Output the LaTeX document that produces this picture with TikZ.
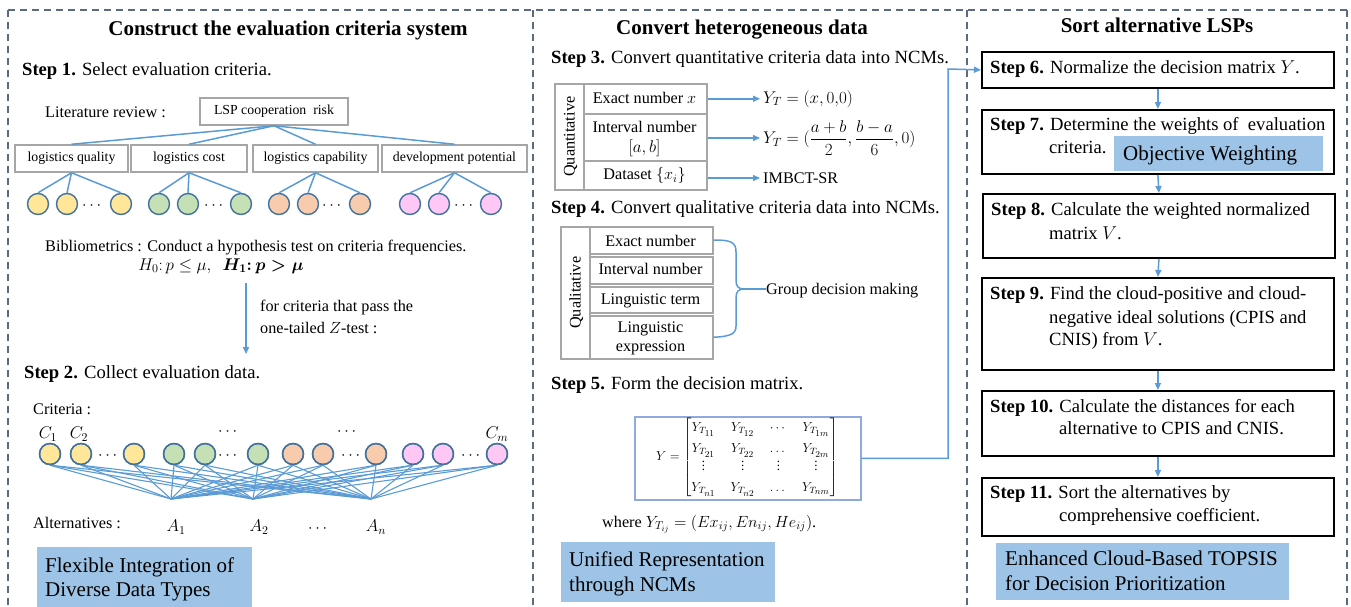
\RequirePackage{fix-cm}
\documentclass[tikz,border=0pt]{standalone}
\usepackage{amsmath}
\usepackage{fontspec}
\setmainfont{Liberation Serif}
\usetikzlibrary{arrows.meta}

\definecolor{framecol}{HTML}{5A6B82}
\definecolor{linkblue}{HTML}{5B9BD5}
\definecolor{cellgray}{HTML}{A6A6A6}
\definecolor{matframe}{HTML}{8FAADC}
\definecolor{tagfill}{HTML}{9DC3E6}
\definecolor{dotedge}{HTML}{41719C}
\definecolor{cyellow}{HTML}{FFE699}
\definecolor{cgreen}{HTML}{C5E0B4}
\definecolor{corange}{HTML}{F8CBAD}
\definecolor{cpink}{HTML}{FFC8F4}

\newcommand{\szTitle}{\fontsize{21}{25}\selectfont\bfseries}
\newcommand{\szStep}{\fontsize{18.6}{22}\selectfont}
\newcommand{\szBody}{\fontsize{16.2}{19}\selectfont}
\newcommand{\szMath}{\fontsize{17}{20}\selectfont}
\newcommand{\szCell}{\fontsize{13.8}{16}\selectfont}
\newcommand{\szTag}{\fontsize{21}{25}\selectfont}
% matrix entry Y_{T_{ij}} with a readable inner index
\newcommand{\ytt}[1]{Y_{T_{\scriptstyle #1}}}

\tikzset{
  ttl/.style={inner sep=0pt, text height=13.9pt, text depth=0pt, font=\szTitle},
  stp/.style={inner sep=0pt, text height=12.3pt, text depth=0pt, font=\szStep, anchor=west},
  bdy/.style={inner sep=0pt, text height=10.7pt, text depth=0pt, font=\szBody},
  mth/.style={inner sep=0pt, font=\szMath},
  tagtxt/.style={inner sep=0pt, text height=13.9pt, text depth=0pt, font=\szTag, anchor=west},
  frame/.style={draw=framecol, line width=1.4pt, dash pattern=on 7pt off 5pt},
  link/.style={draw=linkblue, line width=1.5pt},
  net/.style={draw=linkblue, line width=1.1pt},
  arr/.style={draw=linkblue, line width=1.5pt, -{Triangle[length=7pt,width=6pt]}},
  cell/.style={draw=cellgray, line width=1.5pt, inner sep=0pt, anchor=north west},
  crit/.style={draw=cellgray, line width=1.5pt, inner sep=0pt, font=\szCell, minimum height=27pt},
  dot/.style={circle, draw=dotedge, line width=1.4pt, minimum size=21pt, inner sep=0pt},
  stepbox/.style={draw=black, line width=1.8pt, anchor=north west, inner sep=0pt, minimum width=352pt},
  tag/.style={fill=tagfill, anchor=north west, inner sep=0pt},
}

\begin{document}
\begin{tikzpicture}[x=1pt,y=-1pt]
\useasboundingbox (0,0) rectangle (1351,606);

% ---------- panel frames ----------
\draw[frame] (8,10) -- (1347,10);
\foreach \fx in {8,533,967,1347} \draw[frame] (\fx,10) -- (\fx,606);

% ---------- titles ----------
\node[ttl] (ttlA) at (288,29) {Construct the evaluation criteria system};
\node[ttl] (ttlB) at (742,28) {Convert heterogeneous data};
\node[ttl] (ttlC) at (1157,26) {Sort alternative LSPs};

% ================= left panel =================
\node[stp] (step1) at (22,69) {\textbf{Step 1.} Select evaluation criteria.};
\node[bdy, anchor=west] (litrev) at (45,112) {Literature review :};
\node[crit, minimum width=148pt] (root) at (274,111.5) {LSP cooperation\ \ risk};
\node[crit, minimum width=113pt] (kq) at (71.5,158.5) {logistics quality};
\node[crit, minimum width=116pt] (kc) at (189,158.5) {logistics cost};
\node[crit, minimum width=125pt] (kp) at (315.5,158.5) {logistics capability};
\node[crit, minimum width=145pt] (kd) at (454.5,158.5) {development potential};
\foreach \k in {kq,kc,kp,kd} \draw[link] (root.south) -- (\k.north);

% criteria circles of step 1
\foreach \n/\px/\col in {ya/38/cyellow, yb/67/cyellow, yc/121/cyellow,
                         ga/159/cgreen, gb/188/cgreen, gc/241/cgreen,
                         oa/279/corange, ob/308/corange, oc/360/corange,
                         pa/410/cpink, pb/439/cpink, pc/491/cpink}
  \node[dot, fill=\col] (\n) at (\px,204) {};
\foreach \k/\a/\b/\c in {kq/ya/yb/yc, kc/ga/gb/gc, kp/oa/ob/oc, kd/pa/pb/pc}
  \foreach \t in {\a,\b,\c} \draw[link] (\k.south) -- (\t.north);
\foreach \n/\px in {ea/93, eb/215, ec/333, ed/465}
  \node[bdy] (\n) at (\px,204) {$\cdots$};

\node[bdy, anchor=west] (biblio) at (45,246) {Bibliometrics : Conduct a hypothesis test on criteria frequencies.};
\node[mth] (hyp) at (221,266) {$H_0{:}\,p\le\mu,\ \ \boldsymbol{H_1{:}\,p>\mu}$};
\coordinate (ztop) at (246,283);
\coordinate (zbot) at (246,354);
\draw[arr] (ztop) -- (zbot);
\node[bdy, anchor=west] (pass1) at (260,306) {for criteria that pass the};
\node[bdy, anchor=west] (pass2) at (260,328) {one-tailed $Z$-test :};

\node[stp] (step2) at (24,372) {\textbf{Step 2.} Collect evaluation data.};
\node[bdy, anchor=west] (critlbl) at (33,409) {Criteria :};

% criteria and alternatives
\foreach \n/\px/\col in {c1/50/cyellow, c2/81/cyellow, c3/134/cyellow,
                         c4/174/cgreen, c5/205/cgreen, c6/258/cgreen,
                         c7/293/corange, c8/323/corange, c9/376/corange,
                         c10/413/cpink, c11/443/cpink, c12/497/cpink}
  \node[dot, fill=\col] (\n) at (\px,454) {};
\coordinate (pA1) at (171,499);
\coordinate (pA2) at (253,499);
\coordinate (pAn) at (371,499);
\foreach \c in {c1,c2,c3,c4,c5,c6,c7,c8,c9,c10,c11,c12}
  \foreach \a in {pA1,pA2,pAn} \draw[net] (\c.south) -- (\a);
\foreach \c in {c1,c2,c3,c4,c5,c6,c7,c8,c9,c10,c11,c12}
  \node[dot, fill=none] at (\c) {};
\foreach \n/\px in {fa/109, fb/229, fc/352, fd/472}
  \node[bdy] (\n) at (\px,454) {$\cdots$};
\node[mth] (lc1) at (48,434) {$C_1$};
\node[mth] (lc2) at (79,434) {$C_2$};
\node[mth] (lcm) at (497,434) {$C_m$};
\node[bdy] (ua) at (229,430) {$\cdots$};
\node[bdy] (ub) at (348,430) {$\cdots$};
\node[bdy, anchor=west] (altlbl) at (33,523) {Alternatives :};
\node[mth] (la1) at (176,527) {$A_1$};
\node[mth] (la2) at (259,527) {$A_2$};
\node[bdy] (lad) at (319,527) {$\cdots$};
\node[mth] (lan) at (376,527) {$A_n$};

\node[tag, minimum width=215pt, minimum height=62pt] (tagA) at (37,547) {};
\node[tagtxt] (tagA1) at (45,566) {Flexible Integration of};
\node[tagtxt] (tagA2) at (45,590) {Diverse Data Types};

% ================= middle panel =================
\node[stp] (step3) at (551,57) {\textbf{Step 3.} Convert quantitative criteria data into NCMs.};
\node[cell, minimum width=29pt, minimum height=106pt] (qtlab) at (554,83) {};
\node[cell, minimum width=123pt, minimum height=30pt] (qt1) at (583,83) {};
\node[cell, minimum width=123pt, minimum height=47pt] (qt2) at (583,113) {};
\node[cell, minimum width=123pt, minimum height=29pt] (qt3) at (583,160) {};
\node[bdy, rotate=90] (qtname) at (qtlab.center) {Quantitative};
\node[bdy] (qtx1) at (644.5,98) {Exact number $x$};
\node[bdy] (qtx2a) at (644.5,127) {Interval number};
\node[mth] (qtx2b) at (644.5,148) {$[a,b]$};
\node[bdy] (qtx3) at (644.5,174.5) {Dataset $\{x_i\}$};
\node[mth, anchor=west] (yt1) at (763,99) {$Y_T=(x,0{,}0)$};
\node[mth, anchor=west] (yt2) at (763,138) {$Y_T=(\dfrac{a+b}{2},\dfrac{b-a}{6},0)$};
\node[bdy, anchor=west] (yt3) at (763,178) {IMBCT-SR};
\draw[arr, shorten >=3pt] (qt1.east) -- (qt1.east -| yt1.west);
\draw[arr, shorten >=3pt] (qt2.east |- yt2.west) -- (yt2.west);
\draw[arr, shorten >=3pt] (qt3.east |- yt3.west) -- (yt3.west);

\node[stp] (step4) at (551,207) {\textbf{Step 4.} Convert qualitative criteria data into NCMs.};
\node[cell, minimum width=29pt, minimum height=132pt] (qllab) at (560,226) {};
\node[cell, minimum width=123pt, minimum height=27pt] (ql1) at (589,226) {};
\node[cell, minimum width=123pt, minimum height=27pt] (ql2) at (589,256) {};
\node[cell, minimum width=123pt, minimum height=26pt] (ql3) at (589,286) {};
\node[cell, minimum width=123pt, minimum height=43pt] (ql4) at (589,315) {};
\node[bdy, rotate=90] (qlname) at (qllab.center) {Qualitative};
\node[bdy] (qlx1) at (650.5,241) {Exact number};
\node[bdy] (qlx2) at (650.5,269) {Interval number};
\node[bdy] (qlx3) at (650.5,299) {Linguistic term};
\node[bdy] (qlx4a) at (650.5,327) {Linguistic};
\node[bdy] (qlx4b) at (650.5,346) {expression};
\coordinate (btip) at (744,289);
\node[bdy, anchor=west] (gdm) at (766,289) {Group decision making};
\draw[link] (ql1.east) .. controls (732,239.5) and (736,243) .. (736,252)
  -- (736,280) .. controls (736,286) and (738,289) .. (btip)
  .. controls (738,289) and (736,292) .. (736,298)
  -- (736,326) .. controls (736,333) and (732,336.5) .. (ql4.east);
\draw[link] (btip) -- (gdm.west);

\node[stp] (step5) at (551,383) {\textbf{Step 5.} Form the decision matrix.};
\node[draw=matframe, line width=1.5pt, anchor=north west, inner sep=0pt,
      minimum width=226pt, minimum height=83pt] (mbox) at (634,416) {};
\node[inner sep=0pt] (ymat) at (747,457.5) {\fontsize{13}{15}\selectfont
  \renewcommand{\arraystretch}{1.4}\setlength{\arraycolsep}{7.5pt}%
  $Y=\left[\begin{array}{@{}cccc@{}}
    \ytt{11} & \ytt{12} & \cdots & \ytt{1m}\\
    \ytt{21} & \ytt{22} & \dots & \ytt{2m}\\[-4pt]
    \vdots & \vdots & \vdots & \vdots\\
    \ytt{n1} & \ytt{n2} & \dots & \ytt{nm}
  \end{array}\right]$};
\node[mth, anchor=west] (where) at (602,524) {\szBody where $Y_{T_{ij}}=(Ex_{ij},En_{ij},He_{ij})$.};

\node[tag, minimum width=214pt, minimum height=60pt] (tagB) at (561,542) {};
\node[tagtxt] (tagB1) at (569,560) {Unified Representation};
\node[tagtxt] (tagB2) at (569,585) {through NCMs};

% ================= right panel =================
\node[stepbox, minimum height=36pt] (s6) at (981,51) {};
\node[stepbox, minimum height=64pt] (s7) at (981,109) {};
\node[stepbox, minimum height=64pt] (s8) at (982,193) {};
\node[stepbox, minimum height=92pt] (s9) at (981,277) {};
\node[stepbox, minimum height=65pt] (s10) at (981,390) {};
\node[stepbox, minimum height=58pt] (s11) at (981,477) {};
\draw[arr] (s6.south) -- (s7.north);
\draw[arr] (s7.south) -- (s8.north);
\draw[arr] (s8.south) -- (s9.north);
\draw[arr] (s9.south) -- (s10.north);
\draw[arr] (s10.south) -- (s11.north);

\coordinate (bend) at (948,69);
\draw[arr] (mbox.east) -| (bend) -- (s6.west);

\node[stp] (s6a) at (990,67) {\textbf{Step 6.} Normalize the decision matrix $Y$.};
\node[stp] (s7a) at (990,124) {\textbf{Step 7.} Determine the weights of\ \ evaluation};
\node[stp] (s7b) at (1049,147) {criteria.};
\node[tag, minimum width=209pt, minimum height=35pt] (ow) at (1114,136) {};
\node[tagtxt] (owt) at (1123,154) {Objective Weighting};
\node[stp] (s8a) at (991,209) {\textbf{Step 8.} Calculate the weighted normalized};
\node[stp] (s8b) at (1049,233) {matrix $V$.};
\node[stp] (s9a) at (990,293) {\textbf{Step 9.} Find the cloud-positive and cloud-};
\node[stp] (s9b) at (1049,317) {negative ideal solutions (CPIS and};
\node[stp] (s9c) at (1049,339) {CNIS) from $V$.};
\node[stp] (s10a) at (990,406) {\textbf{Step 10.} Calculate the distances for each};
\node[stp] (s10b) at (1059,428) {alternative to CPIS and CNIS.};
\node[stp] (s11a) at (990,492) {\textbf{Step 11.} Sort the alternatives by};
\node[stp] (s11b) at (1059,515) {comprehensive coefficient.};

\node[tag, minimum width=293pt, minimum height=57pt] (tagC) at (996,543) {};
\node[tagtxt] (tagC1) at (1005,559) {Enhanced Cloud-Based TOPSIS};
\node[tagtxt] (tagC2) at (1005,584) {for Decision Prioritization};
\end{tikzpicture}
\end{document}
